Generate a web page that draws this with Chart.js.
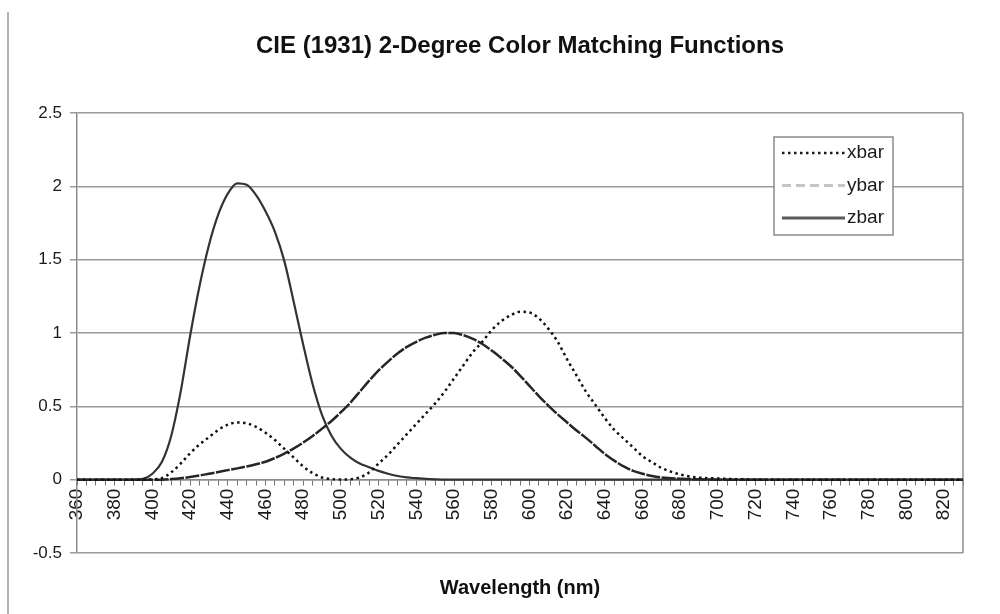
<!DOCTYPE html>
<html>
<head>
<meta charset="utf-8">
<title>CIE (1931) 2-Degree Color Matching Functions</title>
<script src="https://cdn.jsdelivr.net/npm/chart.js@4.4.1/dist/chart.umd.min.js"></script>
<style>
  html, body { margin: 0; padding: 0; background: #fff; }
  #wrap { position: relative; width: 1000px; height: 614px; }
  #wrap canvas { position: absolute; left: 0; top: 0; }
  #edge { position: absolute; left: 7px; top: 12px; width: 2px; height: 602px; background: #b4b4b4; }
</style>
</head>
<body>
<div id="wrap">
  <canvas id="cmf" width="1000" height="614"></canvas>
  <div id="edge"></div>
</div>
<script>
// wavelength (nm), 5 nm steps
const wavelengths = [
  360, 365, 370, 375, 380, 385, 390, 395, 400, 405, 410, 415, 420, 425, 430, 435,
  440, 445, 450, 455, 460, 465, 470, 475, 480, 485, 490, 495, 500, 505, 510, 515,
  520, 525, 530, 535, 540, 545, 550, 555, 560, 565, 570, 575, 580, 585, 590, 595,
  600, 605, 610, 615, 620, 625, 630, 635, 640, 645, 650, 655, 660, 665, 670, 675,
  680, 685, 690, 695, 700, 705, 710, 715, 720, 725, 730, 735, 740, 745, 750, 755,
  760, 765, 770, 775, 780, 785, 790, 795, 800, 805, 810, 815, 820, 825, 830
];

const xbar = [
  0, 0, 0, 0, 0, 0, 0, 0, 0.002, 0.01, 0.05, 0.11, 0.18, 0.24, 0.29, 0.34,
  0.375, 0.39, 0.385, 0.36, 0.32, 0.27, 0.21, 0.15, 0.09, 0.045, 0.015, 0.004, 0.001, 0.003, 0.015, 0.05,
  0.11, 0.17, 0.24, 0.31, 0.38, 0.45, 0.52, 0.60, 0.69, 0.78, 0.87, 0.94, 1.02, 1.08, 1.12, 1.145,
  1.14, 1.10, 1.03, 0.94, 0.82, 0.71, 0.60, 0.51, 0.42, 0.34, 0.28, 0.22, 0.16, 0.12, 0.08, 0.055,
  0.035, 0.022, 0.015, 0.01, 0.008, 0.005, 0.003, 0.002, 0.001, 0, 0, 0, 0, 0, 0, 0,
  0, 0, 0, 0, 0, 0, 0, 0, 0, 0, 0, 0, 0, 0, 0
];

const ybar = [
  0, 0, 0, 0, 0, 0, 0, 0, 0, 0, 0.004, 0.01, 0.018, 0.028, 0.04, 0.052,
  0.065, 0.077, 0.09, 0.105, 0.122, 0.148, 0.178, 0.213, 0.253, 0.298, 0.348, 0.40, 0.46, 0.525, 0.60, 0.675,
  0.745, 0.805, 0.86, 0.905, 0.94, 0.968, 0.988, 1.0, 1.0, 0.985, 0.96, 0.925, 0.88, 0.83, 0.775, 0.71,
  0.64, 0.57, 0.505, 0.445, 0.39, 0.335, 0.285, 0.23, 0.175, 0.13, 0.09, 0.06, 0.04, 0.025, 0.015, 0.01,
  0.006, 0.004, 0.002, 0.001, 0, 0, 0, 0, 0, 0, 0, 0, 0, 0, 0, 0,
  0, 0, 0, 0, 0, 0, 0, 0, 0, 0, 0, 0, 0, 0, 0
];

const zbar = [
  0, 0, 0, 0, 0, 0, 0, 0.005, 0.04, 0.12, 0.30, 0.60, 0.98, 1.32, 1.60, 1.81,
  1.95, 2.02, 2.01, 1.94, 1.83, 1.69, 1.49, 1.21, 0.92, 0.65, 0.44, 0.30, 0.21, 0.15, 0.11, 0.085,
  0.06, 0.04, 0.025, 0.015, 0.01, 0.005, 0.002, 0, 0, 0, 0, 0, 0, 0, 0, 0,
  0, 0, 0, 0, 0, 0, 0, 0, 0, 0, 0, 0, 0, 0, 0, 0,
  0, 0, 0, 0, 0, 0, 0, 0, 0, 0, 0, 0, 0, 0, 0, 0,
  0, 0, 0, 0, 0, 0, 0, 0, 0, 0, 0, 0, 0, 0, 0
];

const seriesNames = ['xbar', 'ybar', 'zbar'];
const yMin = -0.5, yMax = 2.5, yStep = 0.5;

const FONT = '"Liberation Sans", Arial, sans-serif';
Chart.defaults.font.family = FONT;
Chart.defaults.color = '#1a1a1a';

// line samples shown in the boxed key
const keyStyles = {
  xbar: { color: '#1a1a1a', width: 2.5, dash: [2.5, 3.5] },
  ybar: { color: '#c4c4c4', width: 3, dash: [9, 5] },
  zbar: { color: '#5a5a5a', width: 3, dash: [] }
};

// right-hand edge of the plot frame
const plotFrame = {
  id: 'plotFrame',
  beforeDatasetsDraw(chart) {
    const { ctx, chartArea: a } = chart;
    ctx.save();
    ctx.strokeStyle = '#8c8c8c';
    ctx.lineWidth = 1.5;
    ctx.beginPath();
    ctx.moveTo(a.right, a.top);
    ctx.lineTo(a.right, a.bottom);
    ctx.stroke();
    ctx.restore();
  }
};

// boxed key in the upper right of the plot
const boxLegend = {
  id: 'boxLegend',
  afterDraw(chart) {
    const { ctx, chartArea: a } = chart;
    const left = a.right - 189, top = a.top + 24, w = 119, h = 98;
    ctx.save();
    ctx.fillStyle = '#fff';
    ctx.fillRect(left, top, w, h);
    ctx.strokeStyle = '#8a8a8a';
    ctx.lineWidth = 1.5;
    ctx.strokeRect(left, top, w, h);
    ctx.font = '19px ' + FONT;
    ctx.textBaseline = 'middle';
    chart.data.datasets.forEach((ds, i) => {
      const y = top + 16 + i * 32.5;
      const s = keyStyles[ds.label];
      ctx.beginPath();
      ctx.setLineDash(s.dash);
      ctx.strokeStyle = s.color;
      ctx.lineWidth = s.width;
      ctx.moveTo(left + 8, y);
      ctx.lineTo(left + 71, y);
      ctx.stroke();
      ctx.setLineDash([]);
      ctx.fillStyle = '#1a1a1a';
      ctx.fillText(ds.label, left + 73, y);
    });
    ctx.restore();
  }
};

new Chart(document.getElementById('cmf'), {
  type: 'line',
  data: {
    labels: wavelengths,
    datasets: [
      { label: seriesNames[0], data: xbar, borderColor: '#111', borderWidth: 2.5, borderDash: [2.5, 3.5] },
      { label: seriesNames[1], data: ybar, borderColor: '#262626', borderWidth: 2.5, borderDash: [14, 1.5] },
      { label: seriesNames[2], data: zbar, borderColor: '#333', borderWidth: 2.2 }
    ]
  },
  options: {
    responsive: false,
    animation: false,
    layout: { padding: { left: 22, right: 37, top: 0, bottom: 0 } },
    elements: {
      point: { radius: 0 },
      line: { cubicInterpolationMode: 'monotone', fill: false }
    },
    plugins: {
      legend: { display: false },
      tooltip: { enabled: false },
      title: {
        display: true,
        fullSize: false,
        text: 'CIE (1931) 2-Degree Color Matching Functions',
        color: '#111',
        font: { size: 24, weight: 'bold' },
        padding: { top: 32, bottom: 52.2 }
      },
      subtitle: {
        display: true,
        position: 'bottom',
        fullSize: false,
        text: 'Wavelength (nm)',
        color: '#111',
        font: { size: 20, weight: 'bold' },
        padding: { top: 23, bottom: 14 }
      }
    },
    scales: {
      x: {
        type: 'category',
        position: { y: 0 },
        afterFit: s => { s.height = 0; },
        grid: { drawOnChartArea: false, drawTicks: true, tickLength: 5, color: '#707070', lineWidth: 1 },
        border: { display: true, color: '#8c8c8c', width: 1.5 },
        ticks: {
          autoSkip: false,
          minRotation: 90,
          maxRotation: 90,
          padding: 4,
          font: { size: 19 },
          color: '#1a1a1a',
          callback(v, i) { return i % 4 === 0 ? this.getLabelForValue(v) : ''; }
        }
      },
      y: {
        min: yMin,
        max: yMax,
        afterFit: s => { s.width = 55; },
        grid: { color: '#9a9a9a', lineWidth: 1.5, tickLength: 7 },
        border: { display: true, color: '#8c8c8c', width: 1.5 },
        ticks: { stepSize: yStep, padding: 8, font: { size: 17 }, color: '#1a1a1a', callback: v => String(v) }
      }
    }
  },
  plugins: [plotFrame, boxLegend]
});
</script>
</body>
</html>
